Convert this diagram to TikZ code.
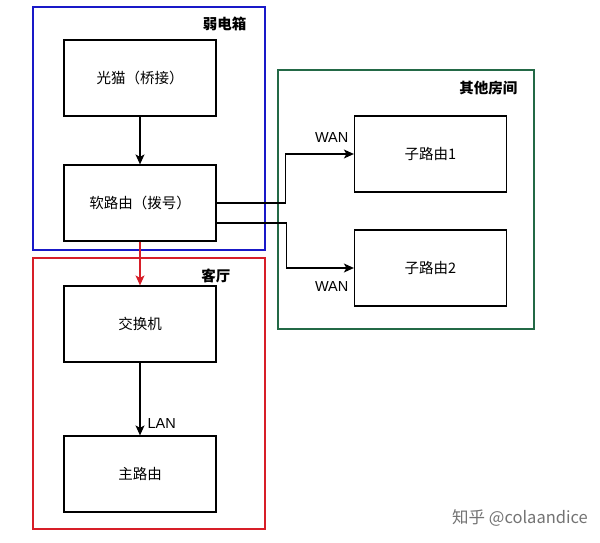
\documentclass[tikz,border=0pt]{standalone}
\usepackage{fontspec}
\setmainfont{Liberation Sans}
\newfontfamily\cjk{Noto Sans CJK SC}
\usetikzlibrary{arrows.meta}
\definecolor{boxblue}{RGB}{25,25,200}
\definecolor{boxred}{RGB}{215,30,40}
\definecolor{boxgreen}{RGB}{35,105,70}
\begin{document}
\begin{tikzpicture}[x=1pt,y=-1pt,
  dev/.style={draw, line width=1.2pt, minimum width=152pt, minimum height=76pt, font=\cjk\fontsize{14.5}{17}\selectfont},
  room/.style={anchor=east, font=\cjk\bfseries\fontsize{14.5}{17}\selectfont},
  link/.style={line width=1.2pt, -{Stealth[length=10pt,width=9pt,inset=2.5pt]}},
  port/.style={font=\fontsize{14.5}{17}\selectfont, inner sep=0pt}]
\useasboundingbox (0,0) rectangle (600,543);
% the rooms
\draw[boxblue, line width=1.2pt] (33,7) rectangle (265,250);
\draw[boxred, line width=1.2pt] (33,258) rectangle (265,529);
\draw[boxgreen, line width=1.2pt] (278,70) rectangle (534,329);
\node[room] (xiang) at (250,24) {弱电箱};
\node[room] (keting) at (234,276) {客厅};
\node[room] (fangjian) at (521,88) {其他房间};
% the devices
\node[dev] (guangmao) at (140,78) {光猫（桥接）};
\node[dev] (ruanluyou) at (140,203) {软路由（拨号）};
\node[dev] (jiaohuanji) at (140,324) {交换机};
\node[dev] (zhuluyou) at (140,474) {主路由};
\node[dev] (ziluyou1) at (430.5,154) {子路由1};
\node[dev] (ziluyou2) at (430.5,268) {子路由2};
% the links
\draw[link] (guangmao) -- (ruanluyou);
\draw[link, boxred] (ruanluyou) -- (jiaohuanji);
\draw[link] (jiaohuanji) -- (zhuluyou) node[port, pos=1, anchor=south west, xshift=7pt, yshift=6pt] {LAN};
\draw[link] (ruanluyou.east) -- ++(69,0) |- (ziluyou1.west) node[port, pos=1, anchor=south east, xshift=-5pt, yshift=11pt] {WAN};
\draw[link] ([yshift=-20pt]ruanluyou.east) -- ++(70,0) |- (ziluyou2.west) node[port, pos=1, anchor=north east, xshift=-5pt, yshift=-13pt] {WAN};
\node[text=black!55, font=\cjk\fontsize{16.5}{19}\selectfont] (zhihu) at (520,518) {知乎 @colaandice};
\end{tikzpicture}
\end{document}
